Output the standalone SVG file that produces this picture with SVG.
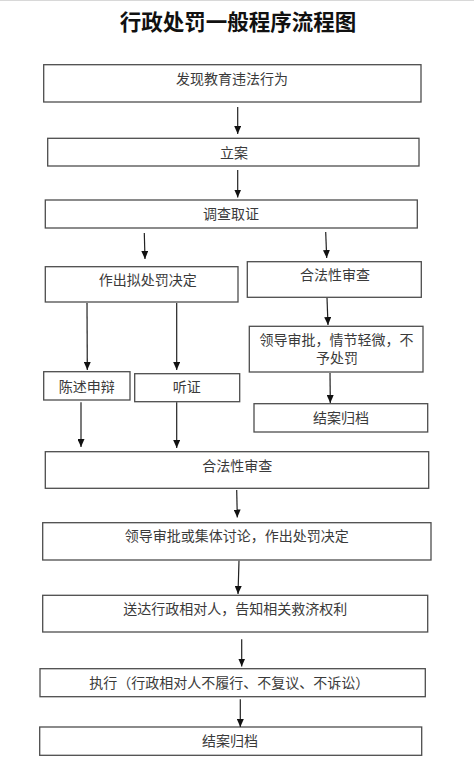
<svg xmlns="http://www.w3.org/2000/svg" width="474" height="769" viewBox="0 0 474 769">
<style>
.bg{fill:#ffffff}
.box{fill:#ffffff;stroke:#4d4d4d;stroke-width:1.3}
.t{font-family:"Liberation Serif","Noto Sans CJK SC",serif;font-size:14px;fill:#3a3a3a;text-anchor:middle}
.title{font-family:"Liberation Serif","Noto Sans CJK SC",serif;font-size:21.5px;font-weight:bold;fill:#111111;text-anchor:middle}
.c{stroke:#222222;stroke-width:1.2;fill:none;marker-end:url(#ah)}
</style>
<defs>
<marker id="ah" markerUnits="userSpaceOnUse" markerWidth="8" markerHeight="7" refX="8" refY="3.5" orient="auto">
<path d="M0,0 L8,3.5 L0,7 z" fill="#111111"/>
</marker>
</defs>
<rect class="bg" x="0" y="0" width="474" height="769"/>
<line x1="0" y1="0.5" x2="474" y2="0.5" stroke="#d8d8d8" stroke-width="1"/>
<text id="title" class="title" x="238" y="30">行政处罚一般程序流程图</text>

<g id="n1"><rect class="box" x="43.7" y="64.7" width="377.3" height="37.3"/><text class="t" x="232" y="84">发现教育违法行为</text></g>
<g id="n2"><rect class="box" x="47.7" y="138.3" width="371.3" height="27.7"/><text class="t" x="234" y="158">立案</text></g>
<g id="n3"><rect class="box" x="45.3" y="200" width="372" height="28"/><text class="t" x="231" y="219">调查取证</text></g>
<g id="n4"><rect class="box" x="45.3" y="266.7" width="192.7" height="35.3"/><text class="t" x="147.7" y="285">作出拟处罚决定</text></g>
<g id="n5"><rect class="box" x="247.3" y="261.7" width="174" height="35.6"/><text class="t" x="335" y="280">合法性审查</text></g>
<g id="n6"><rect class="box" x="249.3" y="326.3" width="173.7" height="45.7"/><text class="t" x="336.5" y="345">领导审批，情节轻微，不</text><text class="t" x="337" y="363">予处罚</text></g>
<g id="n7"><rect class="box" x="254" y="403.7" width="173.7" height="28.3"/><text class="t" x="341" y="423">结案归档</text></g>
<g id="n8"><rect class="box" x="43.7" y="371.7" width="86.3" height="28.3"/><text class="t" x="86.7" y="391.5">陈述申辩</text></g>
<g id="n9"><rect class="box" x="134.7" y="373.7" width="105" height="28"/><text class="t" x="186.7" y="392">听证</text></g>
<g id="n10"><rect class="box" x="45.3" y="451.7" width="383.4" height="36.6"/><text class="t" x="237.3" y="470.5">合法性审查</text></g>
<g id="n11"><rect class="box" x="42.7" y="522.7" width="388.3" height="37.3"/><text class="t" x="236.7" y="540.5">领导审批或集体讨论，作出处罚决定</text></g>
<g id="n12"><rect class="box" x="42.7" y="595.3" width="385" height="36.7"/><text class="t" x="235.3" y="614">送达行政相对人，告知相关救济权利</text></g>
<g id="n13"><rect class="box" x="40" y="668.7" width="385.3" height="28"/><text class="t" x="229.3" y="687.5">执行（行政相对人不履行、不复议、不诉讼）</text></g>
<g id="n14"><rect class="box" x="39.7" y="727" width="382" height="28.3"/><text class="t" x="230" y="745.5">结案归档</text></g>

<g id="connectors">
<line class="c" x1="237.7" y1="107" x2="237.7" y2="134"/>
<line class="c" x1="237.7" y1="170" x2="237.7" y2="197.5"/>
<line class="c" x1="144.3" y1="233" x2="145" y2="259"/>
<line class="c" x1="325.7" y1="232" x2="326.7" y2="258"/>
<line class="c" x1="327" y1="298" x2="328" y2="325"/>
<line class="c" x1="330" y1="373" x2="330.3" y2="403"/>
<line class="c" x1="87" y1="303" x2="87.3" y2="370"/>
<line class="c" x1="176.7" y1="303" x2="176.7" y2="370"/>
<line class="c" x1="81" y1="402.3" x2="81" y2="447"/>
<line class="c" x1="176.7" y1="402.3" x2="176.7" y2="448"/>
<line class="c" x1="236.7" y1="490" x2="237.3" y2="517.5"/>
<line class="c" x1="239" y1="560.7" x2="238" y2="594"/>
<line class="c" x1="241.7" y1="639.3" x2="241.7" y2="666.5"/>
<line class="c" x1="240.3" y1="699.3" x2="240.3" y2="727"/>
</g>
</svg>
